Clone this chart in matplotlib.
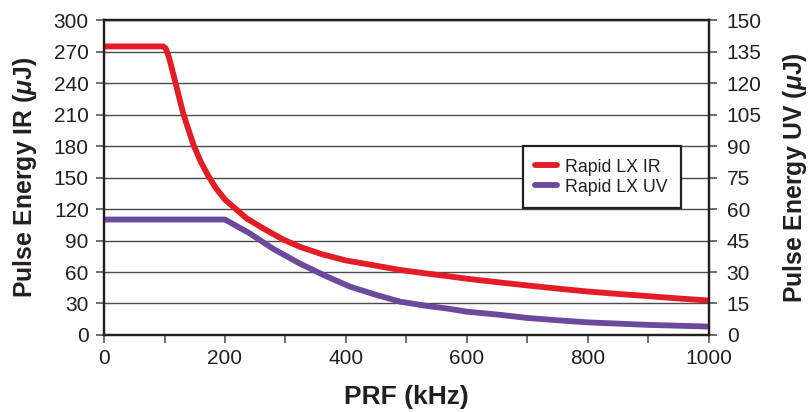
import matplotlib
matplotlib.use("Agg")
import matplotlib.pyplot as plt

plt.rcParams['font.family'] = ['Liberation Sans', 'DejaVu Sans']
plt.rcParams['mathtext.fontset'] = 'custom'
plt.rcParams['mathtext.it'] = 'Liberation Sans:bold:italic'
plt.rcParams['mathtext.rm'] = 'Liberation Sans:bold'
plt.rcParams['mathtext.bf'] = 'Liberation Sans:bold'

# Data (IR read on left axis, UV read on right axis)
prf_ir = [0, 98, 102, 106, 110, 117, 124, 131, 140, 148, 160, 172, 185, 200, 216, 236, 265,
          296, 324, 360, 400, 450, 489, 530, 572, 600, 655, 700, 750, 800, 850, 900, 950, 1000]
energy_ir = [275, 275, 273, 267, 259, 243, 227, 211, 195, 181, 165, 152, 140, 129, 121, 111, 101,
             91, 84, 77, 71, 66, 62, 58.8, 55.8, 53.6, 50, 47.2, 44.2, 41.4, 39.1, 37, 34.8, 32.8]

prf_uv = [0, 200, 220, 241, 280, 324, 365, 407, 450, 489, 530, 572, 600, 655, 700, 750,
          800, 850, 900, 950, 1000]
energy_uv = [55, 55, 51.8, 48.4, 41, 34, 28.3, 23, 19.1, 15.9, 14, 12.4, 11.1, 9.6, 8.1, 7,
             6.0, 5.4, 4.8, 4.4, 4.0]

left_ticks = list(range(0, 301, 30))
right_ticks = list(range(0, 151, 15))
x_major = [0, 200, 400, 600, 800, 1000]
x_minor = [100, 300, 500, 700, 900]

red = '#e31c25'
purple = '#6b4a9e'
txt = '#231f20'

fig = plt.figure(figsize=(8.09, 4.12), dpi=100)
ax = fig.add_subplot(111)
fig.subplots_adjust(left=0.1286, right=0.876, top=0.951, bottom=0.187)
ax2 = ax.twinx()

ax.set_xlim(0, 1000)
ax.set_ylim(0, 300)
ax2.set_ylim(0, 150)
ax.set_yticks(left_ticks)
ax2.set_yticks(right_ticks)
ax.set_xticks(x_major)
ax.set_xticks(x_minor, minor=True)

ax.grid(axis='y', color='#4a4a4a', linewidth=1.0)
ax.set_axisbelow(True)

l1, = ax.plot(prf_ir, energy_ir, color=red, linewidth=4.2,
              solid_capstyle='round', solid_joinstyle='round', label='Rapid LX IR')
l2, = ax2.plot(prf_uv, energy_uv, color=purple, linewidth=4.2,
               solid_capstyle='round', solid_joinstyle='round', label='Rapid LX UV')
ax2.set_zorder(ax.get_zorder() + 1)
ax2.patch.set_visible(False)

for a in (ax, ax2):
    for s in a.spines.values():
        s.set_linewidth(1.6)
        s.set_color(txt)
    a.tick_params(axis='both', which='both', direction='out', length=6, width=1.2,
                  color='#555555', labelsize=15, labelcolor=txt)
ax.tick_params(axis='x', which='both', pad=4)
ax.tick_params(axis='y', pad=5)
ax2.tick_params(axis='y', pad=7)

ax.set_xlabel('PRF (kHz)', fontsize=19, fontweight='bold', color=txt, va='center')
ax.xaxis.set_label_coords(0.5, -0.197)
ax.set_ylabel('Pulse Energy IR ($\\mu$J)', fontsize=17.8, fontweight='bold', color=txt, va='center')
ax.yaxis.set_label_coords((25 - 104) / 605, 0.5)
ax2.set_ylabel('Pulse Energy UV ($\\mu$J)', fontsize=17.8, fontweight='bold', color=txt, va='center')
ax2.yaxis.set_label_coords((795 - 104) / 605, 0.5)

leg = ax2.legend(handles=[l1, l2], loc='upper left', bbox_to_anchor=(0.6926, 0.6),
                 borderaxespad=0, fontsize=12.8, frameon=True, fancybox=False,
                 edgecolor=txt, framealpha=1, handlelength=1.25, handletextpad=0.45,
                 borderpad=0.7, labelspacing=0.17)
leg.get_frame().set_linewidth(1.6)
for t in leg.get_texts():
    t.set_color(txt)

fig.savefig('out.png', dpi=100)
